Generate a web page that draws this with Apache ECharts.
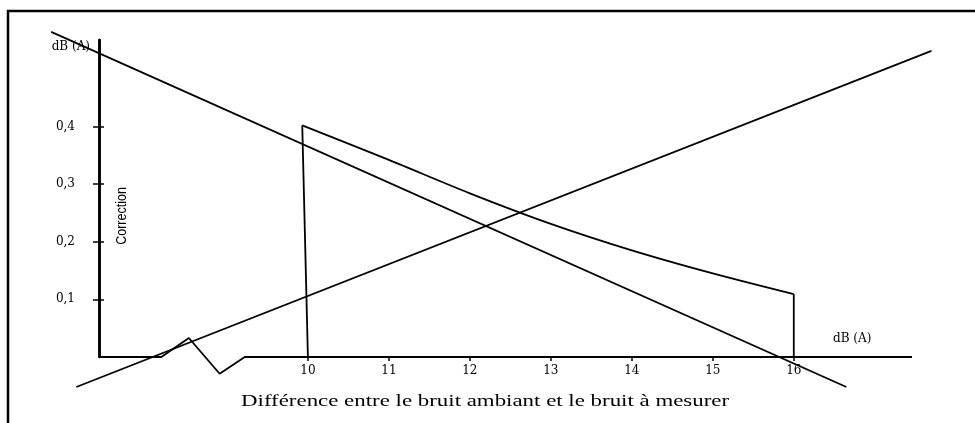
<!DOCTYPE html>
<html>
<head>
<meta charset="utf-8">
<script src="https://cdn.jsdelivr.net/npm/echarts@6/dist/echarts.min.js"></script>
<style>
    html, body { margin: 0; padding: 0; background: #fff; }
    #chart { width: 975px; height: 423px; }
</style>
</head>
<body>
<div id="chart"></div>
<script>
//tick labels
let xTicks = [10, 11, 12, 13, 14, 15, 16];
let yTicks = [0.1, 0.2, 0.3, 0.4];

//base line along the x axis, with the little zigzag before 10 dB
let baseX = [7.42, 8.19, 8.53, 8.91, 9.22, 17.46];
let baseY = [0, 0, 0.033, -0.029, 0, 0];

//vertical edges of the correction zone
let leftEdgeX = [10, 9.93];
let leftEdgeY = [0, 0.402];
let rightEdgeX = [16, 16];
let rightEdgeY = [0.109, 0];

//correction curve, 10 -> 16 dB
let curveX = [9.93, 11, 12, 13, 14, 15, 16];
let curveY = [0.402, 0.342, 0.284, 0.231, 0.185, 0.145, 0.109];

//the two straight lines crossing the figure
let fallX = [6.83, 16.65];
let fallY = [0.564, -0.052];
let riseX = [7.14, 17.70];
let riseY = [-0.052, 0.531];

function pairs(xs, ys) {
    let out = [];
    for (let i = 0; i < xs.length; i++) {
        out.push([xs[i], ys[i]]);
    }
    return out;
}

function lineSeries(name, data, smooth) {
    return {
        name: name,
        type: 'line',
        data: data,
        symbol: 'none',
        clip: false,
        silent: true,
        smooth: smooth || false,
        lineStyle: { color: '#000', width: 1.8 }
    };
}

//line series get cut at the x extent even with clip:false,
//these two run past the axes so draw them as a custom polyline
function freeLine(name, xs, ys) {
    return {
        name: name,
        type: 'custom',
        silent: true,
        data: [[xs[0], ys[0]]],
        renderItem: function (params, api) {
            let pts = [];
            for (let i = 0; i < xs.length; i++) {
                pts.push(api.coord([xs[i], ys[i]]));
            }
            return {
                type: 'polyline',
                shape: { points: pts },
                style: { stroke: '#000', lineWidth: 1.8, fill: null }
            };
        }
    };
}

function renderChart() {
    let serif = 'DejaVu Serif';

    let option = {
        animation: false,
        grid: { left: 99, right: 63, top: 40, bottom: 66 },
        xAxis: {
            type: 'value',
            min: 7.42,
            max: 17.46,
            name: 'dB (A)',
            nameLocation: 'end',
            nameGap: -79,
            nameTextStyle: {
                color: '#000', fontFamily: serif, fontSize: 12,
                align: 'left', verticalAlign: 'bottom', padding: [0, 0, 12, 0]
            },
            //the line itself is drawn by the base series (it breaks at the zigzag)
            axisLine: { show: false, onZero: false },
            axisTick: { show: true, length: 4, customValues: xTicks, lineStyle: { color: '#000', width: 1.5 } },
            axisLabel: { customValues: xTicks, margin: 8, color: '#000', fontFamily: serif, fontSize: 12 },
            splitLine: { show: false }
        },
        yAxis: [
            {
                type: 'value',
                min: 0,
                max: 0.55,
                name: 'dB (A)',
                nameLocation: 'end',
                nameGap: -7,
                nameTextStyle: {
                    color: '#000', fontFamily: serif, fontSize: 12,
                    align: 'right', verticalAlign: 'middle', padding: [0, 9, 0, 0]
                },
                axisLine: { show: true, onZero: false, lineStyle: { color: '#000', width: 2.5 } },
                axisTick: { show: true, length: 6, customValues: yTicks, lineStyle: { color: '#000', width: 1.5 } },
                axisLabel: {
                    customValues: yTicks, margin: 24, color: '#000', fontFamily: serif, fontSize: 12,
                    formatter: function (v) { return v.toFixed(1).replace('.', ','); }
                },
                splitLine: { show: false }
            },
            {
                //same axis again, only to get the tick marks on the inner side too
                type: 'value',
                min: 0,
                max: 0.55,
                position: 'left',
                offset: 0,
                axisLine: { show: true, onZero: false, lineStyle: { color: '#000', width: 2.5 } },
                axisTick: { show: true, inside: true, length: 5, customValues: yTicks, lineStyle: { color: '#000', width: 1.5 } },
                axisLabel: { show: false },
                splitLine: { show: false }
            }
        ],
        graphic: [
            {
                type: 'rect',
                silent: true,
                shape: { x: 8, y: 11, width: 1100, height: 600 },
                style: { fill: 'none', stroke: '#000', lineWidth: 2.5 }
            },
            {
                type: 'text',
                silent: true,
                x: 122,
                y: 216,
                rotation: Math.PI / 2,
                scaleY: 1.2,
                style: {
                    text: 'Correction',
                    fill: '#000',
                    font: '12.5px "Liberation Sans", sans-serif',
                    align: 'center',
                    verticalAlign: 'middle'
                }
            },
            {
                type: 'text',
                silent: true,
                x: 241,
                y: 402,
                scaleX: 1.43,
                style: {
                    text: 'Différence entre le bruit ambiant et le bruit à mesurer',
                    fill: '#000',
                    font: '16px "Liberation Serif", serif',
                    align: 'left',
                    verticalAlign: 'middle'
                }
            }
        ],
        series: [
            lineSeries('base', pairs(baseX, baseY)),
            lineSeries('leftEdge', pairs(leftEdgeX, leftEdgeY)),
            lineSeries('correction', pairs(curveX, curveY), 0.3),
            lineSeries('rightEdge', pairs(rightEdgeX, rightEdgeY)),
            freeLine('fall', fallX, fallY),
            freeLine('rise', riseX, riseY)
        ]
    };

    let myChart = echarts.init(document.querySelector('#chart'));
    myChart.setOption(option);
}

renderChart();
</script>
</body>
</html>
